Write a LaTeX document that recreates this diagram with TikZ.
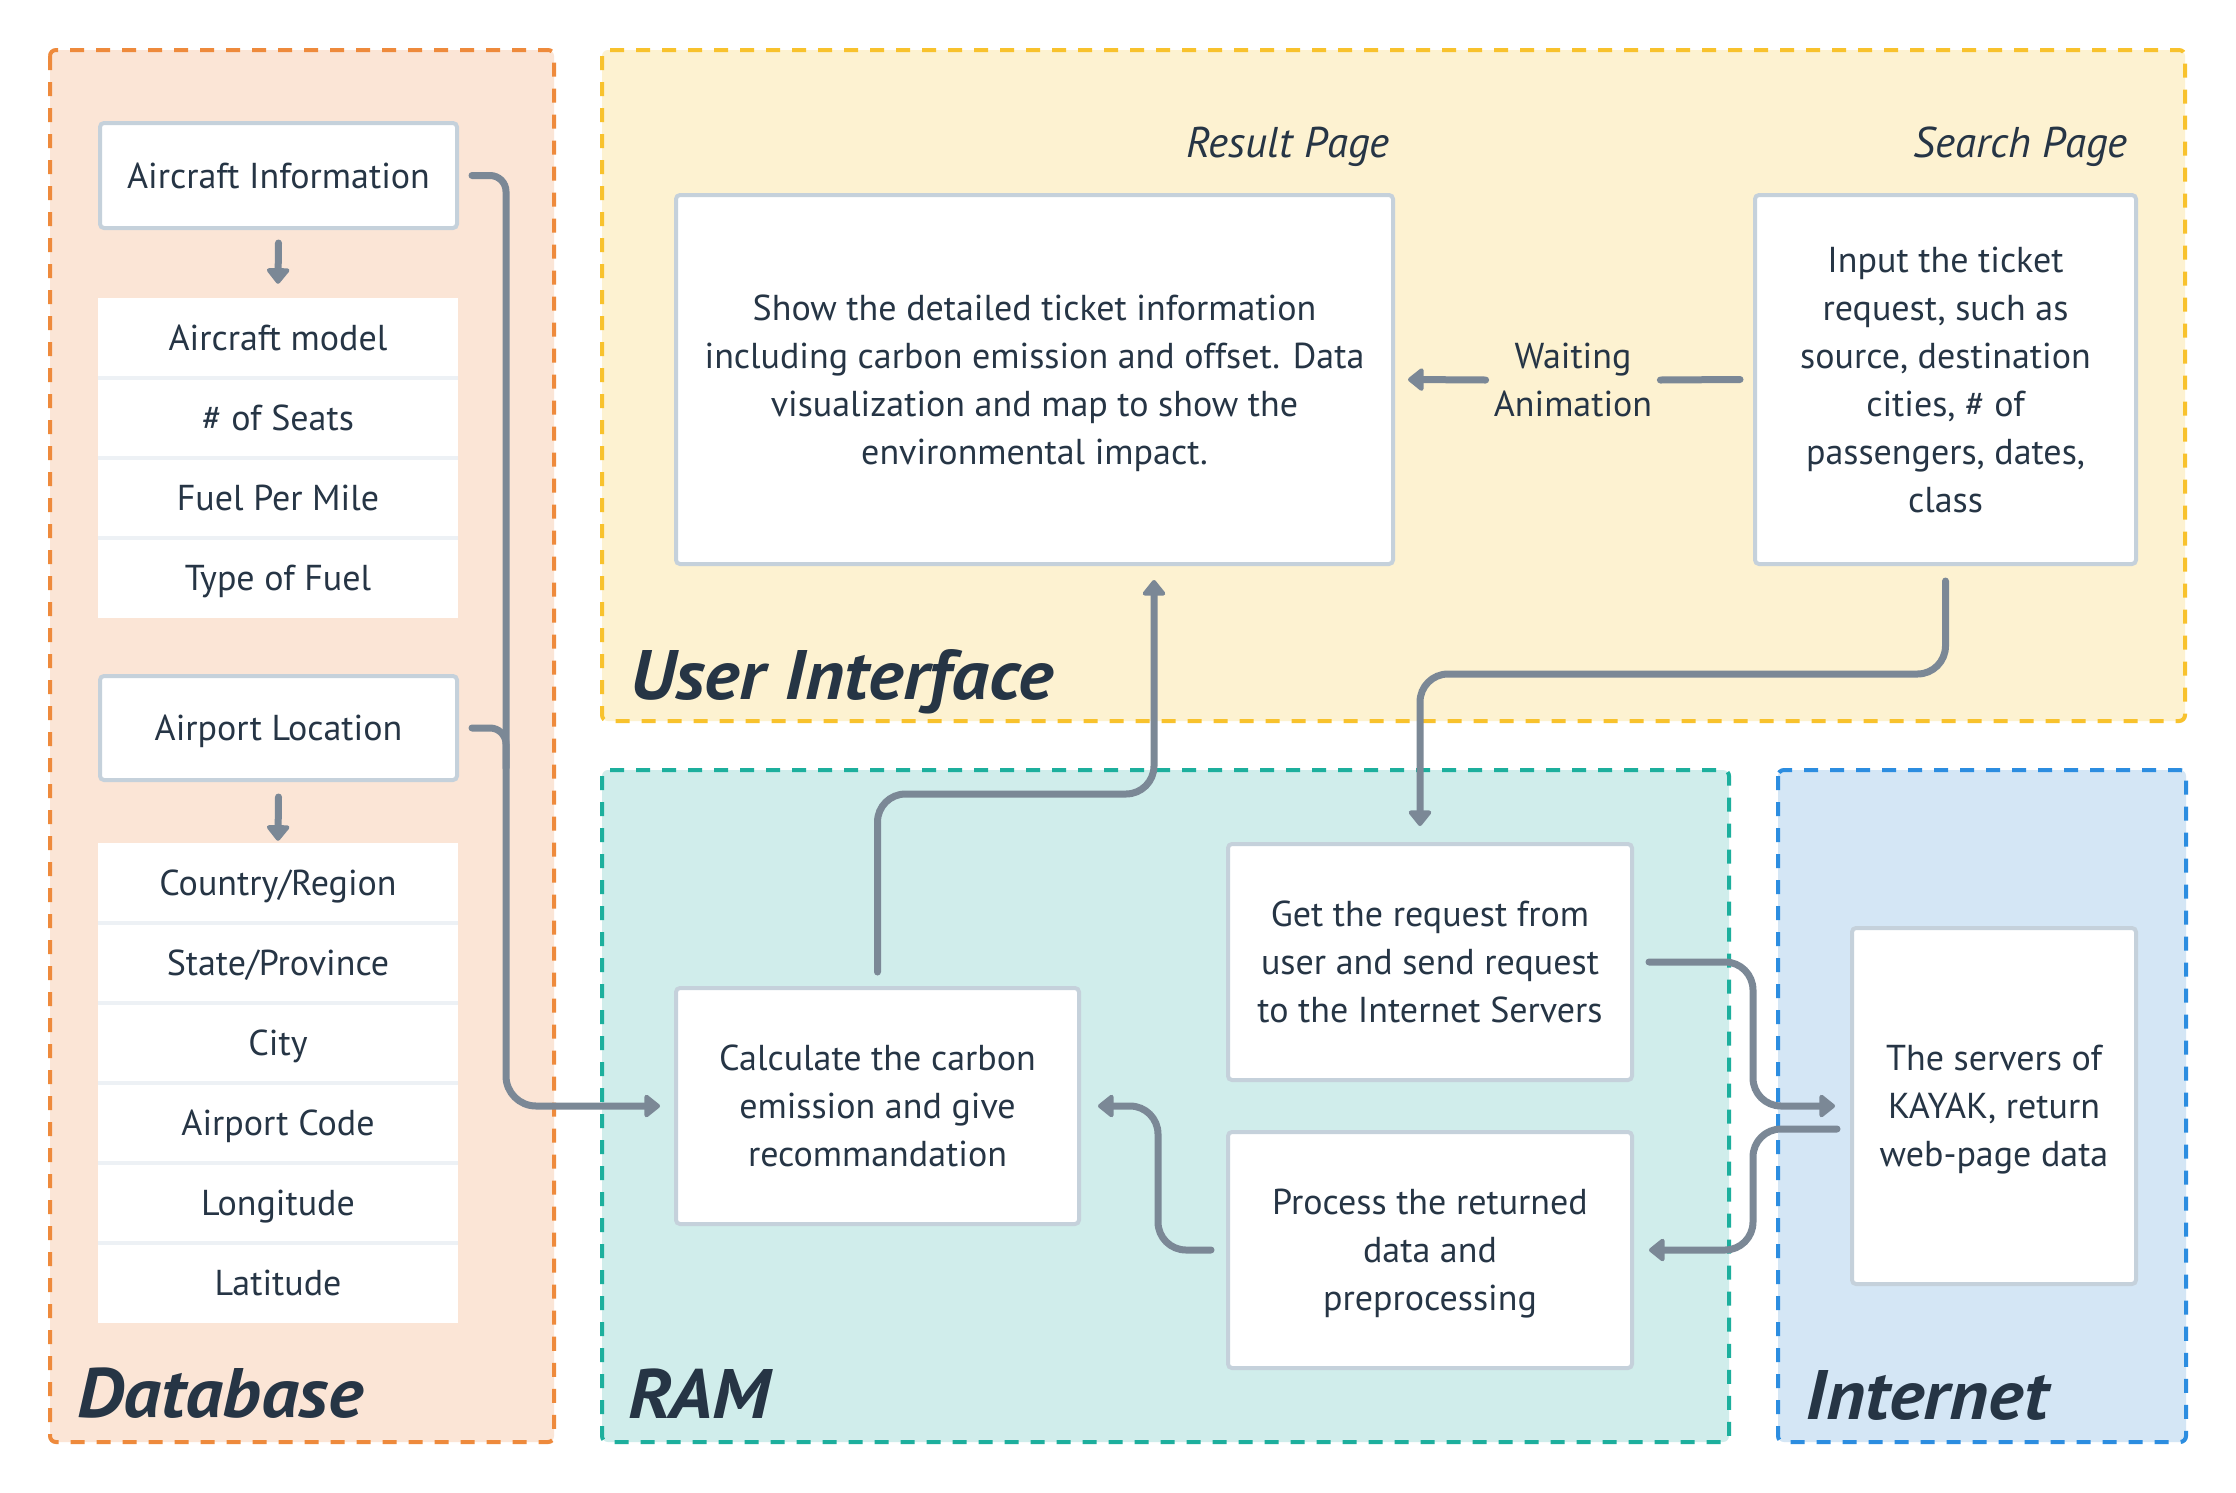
\documentclass[tikz,border=0pt]{standalone}
\usepackage{fontspec}
\setmainfont{PT Sans}
\newfontfamily\titlefam[FakeStretch=1.07]{PT Sans}
\usetikzlibrary{arrows.meta,calc}
\definecolor{cTxt}{HTML}{263545}
\definecolor{cConn}{HTML}{7B8896}
\definecolor{cBox}{HTML}{C5D1DB}
\definecolor{cSep}{HTML}{EDF1F5}
\definecolor{cDbFill}{HTML}{FBE5D6}
\definecolor{cDbLine}{HTML}{EE8A3C}
\definecolor{cUiFill}{HTML}{FDF2D1}
\definecolor{cUiLine}{HTML}{F8C22D}
\definecolor{cRamFill}{HTML}{D0EDEB}
\definecolor{cRamLine}{HTML}{1DAF9D}
\definecolor{cNetFill}{HTML}{D4E6F5}
\definecolor{cNetLine}{HTML}{2C8DE0}
\newcommand\bodyfont{\fontsize{36}{48}\selectfont}
\newcommand\titlefont{\titlefam\fontsize{70}{80}\selectfont\bfseries\itshape}
\newcommand\pagefont{\fontsize{43}{48}\selectfont\itshape}
\begin{document}
\begin{tikzpicture}[x=1pt,y=-1pt,
 container/.style={dash pattern=on 14pt off 12pt, line width=4pt, rounded corners=6pt},
 box/.style={draw=cBox, line width=4pt, fill=white, rounded corners=4pt, inner sep=0pt, align=center, text=cTxt, font=\bodyfont, text depth=0pt},
 row/.style={fill=white, minimum width=360pt, minimum height=80pt, inner sep=0pt, text=cTxt, font=\bodyfont, text depth=0pt},
 link/.style={draw=cConn, line width=7pt, line cap=round, rounded corners=28pt},
 tip/.style={-{Triangle[width=26pt,length=17pt,round]}},
 title/.style={inner sep=0pt, text=cTxt, font=\titlefont},
 pagelbl/.style={inner sep=0pt, text=cTxt, font=\pagefont},
 sepline/.style={draw=cSep, line width=3.5pt}]
\fill[white] (0,0) rectangle (2236,1492);
\useasboundingbox (0,0) rectangle (2236,1492);
% containers
\path[container, fill=cDbFill, draw=cDbLine] (50,50) rectangle (554,1442);
\path[container, fill=cUiFill, draw=cUiLine] (602,50) rectangle (2185,721);
\path[container, fill=cRamFill, draw=cRamLine] (602,770) rectangle (1729,1442);
\path[container, fill=cNetFill, draw=cNetLine] (1778,770) rectangle (2186,1442);
% database
\node[box, minimum width=357pt, minimum height=105pt] (ai) at (278.5,175.5) {Aircraft Information};
\node[row] (r1) at (278,338) {Aircraft model};
\node[row] (r2) at (278,418) {\# of Seats};
\node[row] (r3) at (278,498) {Fuel Per Mile};
\node[row] (r4) at (278,578) {Type of Fuel};
\node[box, minimum width=357pt, minimum height=104pt] (al) at (278.5,728) {Airport Location};
\node[row] (r5) at (278,883) {Country/Region};
\node[row] (r6) at (278,963) {State/Province};
\node[row] (r7) at (278,1043) {City};
\node[row] (r8) at (278,1123) {Airport Code};
\node[row] (r9) at (278,1203) {Longitude};
\node[row] (r10) at (278,1283) {Latitude};
\foreach \r in {r1,r2,r3,r5,r6,r7,r8,r9}{\draw[sepline] (\r.south west) -- (\r.south east);}
% UI
\node[box, minimum width=717pt, minimum height=369pt] (res) at (1034.5,379.5) {Show the detailed ticket information\\including carbon emission and offset. Data\\visualization and map to show the\\environmental impact.};
\node[box, minimum width=381pt, minimum height=369pt] (srch) at (1945.5,379.5) {Input the ticket\\request, such as\\source, destination\\cities, \# of\\passengers, dates,\\class};
\node[inner xsep=8pt, inner ysep=0pt, align=center, text=cTxt, font=\bodyfont] (wait) at (1573,380) {Waiting\\Animation};
% RAM
\node[box, minimum width=404pt, minimum height=236pt] (get) at (1430,962) {Get the request from\\user and send request\\to the Internet Servers};
\node[box, minimum width=404pt, minimum height=236pt] (proc) at (1430,1250) {Process the returned\\data and\\preprocessing};
\node[box, minimum width=403pt, minimum height=236pt] (calc) at (877.5,1106) {Calculate the carbon\\emission and give\\recommandation};
% Internet
\node[box, minimum width=284pt, minimum height=356pt] (kayak) at (1994,1106) {The servers of\\KAYAK, return\\web-page data};
% labels
\node[title, anchor=base west] (lDb) at (77,1417) {Database};
\node[title, anchor=base west] (lRam) at (628,1418) {RAM};
\node[title, anchor=base west] (lNet) at (1805,1419) {Internet};
\node[title, anchor=base west] (lUi) at (630,699) {User Interface};
\node[pagelbl, anchor=base east] (lRes) at (1390,157) {Result Page};
\node[pagelbl, anchor=base east] (lSrch) at (2128,157) {Search Page};
% coordinates
\coordinate (busx) at (506,0);
\coordinate (rb) at (1154,794);
\coordinate (gb) at (1420,674);
\coordinate (kx) at (1753,0);
\coordinate (px) at (1158,0);
% connectors
\draw[link, tip] ($(ai.south)+(0,13)$) -- ($(r1.north)+(0,-14)$);
\draw[link, tip] ($(al.south)+(0,15)$) -- ($(r5.north)+(0,-2)$);
\draw[link, tip] ($(ai.east)+(13,0)$) [rounded corners=16pt] -- (busx |- ai.east) [rounded corners=30pt] -- (busx |- calc.west) -- ($(calc.west)+(-14,0)$);
\draw[link, rounded corners=16pt] ($(al.east)+(13,0)$) -- (busx |- al.east) -- ($(busx |- al.east)+(0,40)$);
\draw[link, tip] ($(calc.north)+(0,-14)$) -- (calc.north |- rb) -- (rb) -- ($(rb |- res.south)+(0,14)$);
\draw[link, tip] ($(srch.south)+(0,15)$) -- (srch.south |- gb) -- (gb) -- ($(gb |- get.north)+(0,-16)$);
\draw[link] ($(srch.west)+(-13,0)$) -- (wait.east);
\draw[link, tip] (wait.west) -- ($(res.east)+(13,0)$);
\draw[link, tip] ($(get.east)+(15,0)$) -- (kx |- get.east) -- (kx |- kayak.west) -- ($(kayak.west)+(-15,0)$);
\draw[link, tip] ($(kayak.west)+(-13,23)$) -- ($(kx |- kayak.west)+(0,23)$) -- (kx |- proc.east) -- ($(proc.east)+(15,0)$);
\draw[link, tip] ($(proc.west)+(-15,0)$) -- (px |- proc.west) -- (px |- calc.east) -- ($(calc.east)+(17,0)$);
\end{tikzpicture}
\end{document}
